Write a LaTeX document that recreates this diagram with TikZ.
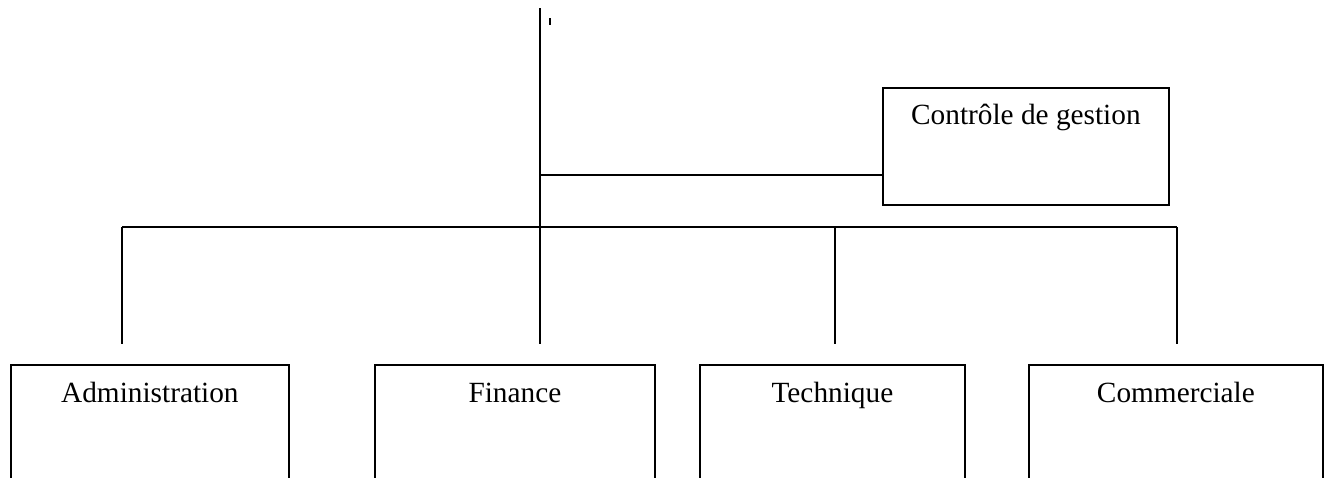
\documentclass[tikz,border=0pt]{standalone}
\usepackage{fontspec}
\setmainfont{Liberation Serif}
\begin{document}
\begin{tikzpicture}[x=1pt,y=-1pt,
  line width=1.8pt,
  unitbox/.style={draw, rectangle, inner sep=0pt, anchor=north west,
    font=\fontsize{29.3}{35}\selectfont},
  link/.style={line width=1.8pt}]
\useasboundingbox (0,0) rectangle (1328,477);
\clip (0,0) rectangle (1328,477);

% management control box
\node[unitbox, minimum width=286pt, text height=37pt, text depth=80pt]
  (ctrl) at (882,87) {Contr\^ole de gestion};

% department boxes (open at the lower edge)
\node[unitbox, minimum width=278pt, text height=38pt, text depth=100pt]
  (admin) at (10,364) {Administration};
\node[unitbox, minimum width=280pt, text height=38pt, text depth=100pt]
  (fin) at (374,364) {Finance};
\node[unitbox, minimum width=265pt, text height=38pt, text depth=100pt]
  (tech) at (699,364) {Technique};
\node[unitbox, minimum width=294pt, text height=38pt, text depth=100pt]
  (comm) at (1028,364) {Commerciale};

% junction points
\coordinate (top) at (540,8);
\coordinate (hub) at (540,175);
\coordinate (busW) at (122,227);
\coordinate (busE) at (1177,227);
\coordinate (busT) at (835,227);
\coordinate (endA) at (122,344);
\coordinate (endF) at (540,344);
\coordinate (endT) at (835,344);
\coordinate (endC) at (1177,344);

% main trunk and branches
\draw[link] (top) -- (endF);
\draw[link] (hub) -- (ctrl.west |- hub);
\draw[link] (busW) -- (busE);
\draw[link] (busW) -- (endA);
\draw[link] (busT) -- (endT);
\draw[link] (busE) -- (endC);

% small mark beside the trunk
\coordinate (markA) at (550,18);
\coordinate (markB) at (550,25);
\draw[line width=2pt] (markA) -- (markB);
\end{tikzpicture}
\end{document}
